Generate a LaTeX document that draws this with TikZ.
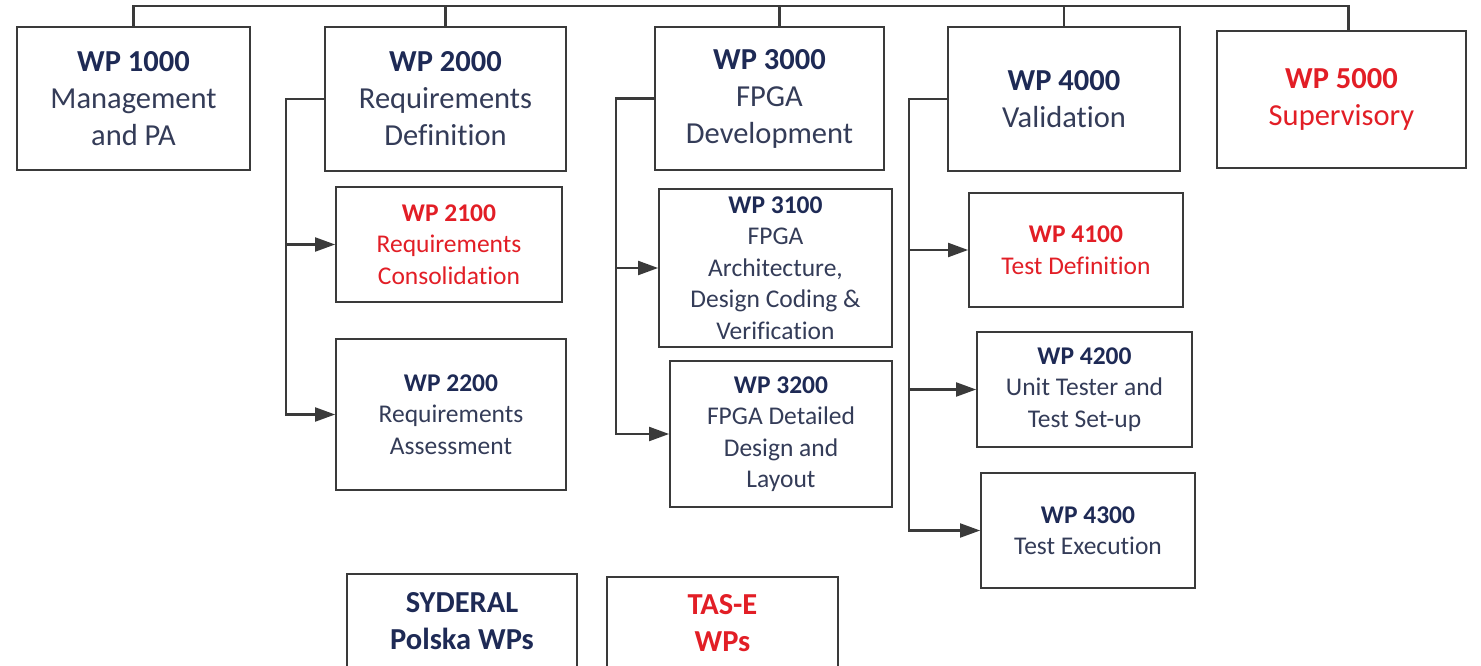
\documentclass[tikz,border=0pt]{standalone}
\usepackage{fontspec}
\setmainfont[Ligatures=NoCommon]{Carlito}
\usepackage{xcolor}
\usetikzlibrary{arrows.meta}
\definecolor{wpnavy}{RGB}{30,42,85}
\definecolor{wpslate}{RGB}{52,60,88}
\definecolor{wpred}{RGB}{226,30,38}
\definecolor{wpframe}{RGB}{58,58,58}
\newcommand{\wphead}[2][wpnavy]{\textcolor{#1}{\textbf{WP #2}}}

\begin{document}
\begin{tikzpicture}[x=1pt,y=-1pt]
      \tikzset{
        wpbox/.style args={#1/#2}{draw=wpframe, line width=1.8pt, fill=white,
            minimum width=#1pt, minimum height=#2pt, inner sep=0pt,
            align=center, text=wpslate},
        main wp/.style={font=\fontsize{30.5}{37}\selectfont},
        sub wp/.style={font=\fontsize{25.5}{31.5}\selectfont},
        red wp/.style={text=wpred},
        link/.style={draw=wpframe, line width=2.1pt, line cap=rect},
        branch/.style={link, -{Triangle[length=20pt,width=14pt]}}
      }

      \clip (0,0) rectangle (1481,666);
      \fill[white] (0,0) rectangle (1481,666);

      % Top level
      \node[wpbox=233/143, main wp] (wp1000) at (133.5,98.5) {\wphead{1000}\\Management\\and PA};
      \node[wpbox=241/144, main wp] (wp2000) at (445.5,99) {\wphead{2000}\\Requirements\\Definition};
      \node[wpbox=229/143, main wp] (wp3000) at (769.5,98.5) {\wphead{3000}\\FPGA\\Development};
      \node[wpbox=232/144, main wp] (wp4000) at (1064,99) {\wphead{4000}\\Validation};
      \node[wpbox=249/137, main wp, red wp] (wp5000) at (1341.5,99.5) {\wphead[wpred]{5000}\\Supervisory};

      % Sub packages
      \node[wpbox=226/115, sub wp, red wp] (wp2100) at (449,244.5) {\wphead[wpred]{2100}\\Requirements\\Consolidation};
      \node[wpbox=230/151, sub wp] (wp2200) at (451,414.5) {\wphead{2200}\\Requirements\\Assessment};
      \node[wpbox=233/158, sub wp] (wp3100) at (775.5,268) {\wphead{3100}\\FPGA\\Architecture,\\Design Coding \&\\Verification};
      \node[wpbox=222/146, sub wp] (wp3200) at (781,434) {\wphead{3200}\\FPGA Detailed\\Design and\\Layout};
      \node[wpbox=214/114, sub wp, red wp] (wp4100) at (1076,250) {\wphead[wpred]{4100}\\Test Definition};
      \node[wpbox=215/115, sub wp] (wp4200) at (1084.5,389.5) {\wphead{4200}\\Unit Tester and\\Test Set-up};
      \node[wpbox=214/115, sub wp] (wp4300) at (1088,530.5) {\wphead{4300}\\Test Execution};

      % Legend
      \node[wpbox=230/94, main wp, text=wpnavy] (syderal) at (462,621) {\textbf{SYDERAL}\\\textbf{Polska WPs}};
      \node[wpbox=231/92, main wp, red wp] (tase) at (722.5,623) {\textbf{TAS-E}\\\textbf{WPs}};

      % Bus
      \coordinate (bus) at (0,6);
      \foreach \n/\dx in {wp1000/0,wp2000/0,wp3000/10,wp4000/0,wp5000/7}
        \coordinate (\n top) at ([xshift=\dx pt]\n.north);
      \draw[link] (wp1000top) |- (bus -| wp5000top) -- (wp5000top);
      \foreach \n in {wp2000,wp3000,wp4000}
        \draw[link] (\n top) -- (\n top |- bus);

      % Branches
      \foreach \p in {2000,3000,4000}
        \draw[link] (wp\p.west) -- ++(-38,0) coordinate (s\p);
      \foreach \p/\c in {2000/2100,2000/2200,3000/3100,3000/3200,4000/4100,4000/4200,4000/4300}
        \draw[branch] (s\p) |- (wp\c.west);
    \end{tikzpicture}
\end{document}
